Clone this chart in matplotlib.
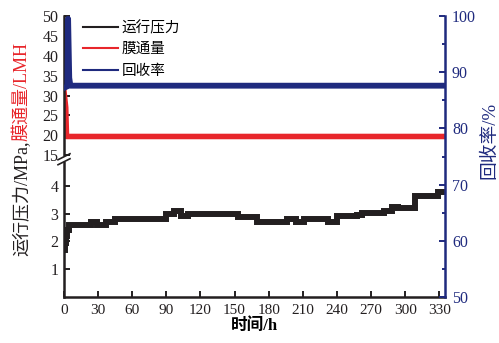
import numpy as np
import matplotlib
matplotlib.use("Agg")
import matplotlib.pyplot as plt
from matplotlib.patches import Rectangle
from matplotlib.ticker import MultipleLocator

plt.rcParams['font.family'] = ['Liberation Serif', 'Noto Sans CJK SC', 'DejaVu Sans']
plt.rcParams['font.size'] = 11

# operating pressure (MPa), stepwise readings
hours = [0, 1, 2, 3, 4, 24, 29, 37, 45, 90, 97, 103, 109, 153, 170, 196, 204,
         211, 232, 240, 258, 262, 281, 288, 294, 309, 329, 332]
pressure = [1.7, 1.95, 2.2, 2.4, 2.6, 2.7, 2.6, 2.7, 2.8, 3.0, 3.1, 2.9, 3.0,
            2.88, 2.7, 2.8, 2.7, 2.8, 2.7, 2.9, 2.95, 3.03, 3.1, 3.25, 3.2,
            3.62, 3.78, 3.78]

# membrane flux (LMH)
flux_h = [0, 1.5, 2.2, 335]
flux = [31, 27, 19.7, 19.7]

# recovery (%)
rec_h = [0, 3, 3.6, 4.6, 5.6, 335]
recovery = [87.2, 87.5, 99.5, 89, 87.6, 87.6]

xticks = list(range(0, 331, 30))
left_ticks = [1, 2, 3, 4, 15, 20, 25, 30, 35, 40, 45, 50]
right_ticks = [50, 60, 70, 80, 90, 100]

black = '#231f20'
red = '#e8262b'
navy = '#1f2a7e'

# broken left axis: 0..4.96 stretched, 14..50 compressed
BRK_LO, BRK_HI = 4.96, 14.0
A, B, EPS = 27.8, 3.98, 0.01
U1 = BRK_LO * A
U2 = U1 + (BRK_HI - BRK_LO) * EPS


def fwd(y):
    y = np.asarray(y, dtype=float)
    return np.where(y <= BRK_LO, y * A,
                    np.where(y < BRK_HI, U1 + (y - BRK_LO) * EPS,
                             U2 + (y - BRK_HI) * B))


def inv(u):
    u = np.asarray(u, dtype=float)
    return np.where(u <= U1, u / A,
                    np.where(u < U2, BRK_LO + (u - U1) / EPS,
                             BRK_HI + (u - U2) / B))


fig = plt.figure(figsize=(4.99, 3.43), dpi=100)
W, H = 499, 343
ax = fig.add_axes([64 / W, 1 - 297 / H, (445 - 64) / W, (297 - 16) / H])
ax.set_yscale('function', functions=(fwd, inv))

l1, = ax.plot(hours, pressure, color=black, lw=4.3, drawstyle='steps-post',
              label='运行压力', solid_joinstyle='miter')
l2, = ax.plot(flux_h, flux, color=red, lw=4.0, label='膜通量')
ax.set_xlim(0, 335)
ax.set_ylim(0, 50)
ax.set_xticks(xticks)
ax.set_yticks(left_ticks)
ax.yaxis.set_minor_locator(plt.NullLocator())
ax.tick_params(direction='in', length=4, width=1.4, colors=black, pad=4,
               labelsize=11.5)
ax.tick_params(axis='x', pad=5, labelsize=11)
for s in ['left', 'bottom']:
    ax.spines[s].set_linewidth(1.8)
    ax.spines[s].set_color(black)
ax.spines['top'].set_visible(False)
ax.spines['right'].set_visible(False)

ax2 = ax.twinx()
l3, = ax2.plot(rec_h, recovery, color=navy, lw=4.2, label='回收率')
ax2.set_ylim(50, 100)
ax2.set_yticks(right_ticks)
ax2.yaxis.set_minor_locator(MultipleLocator(5))
ax2.tick_params(axis='y', which='both', direction='in', colors=navy, width=1.4,
                pad=5, labelsize=11.5)
ax2.tick_params(axis='y', which='major', length=4)
ax2.tick_params(axis='y', which='minor', length=2.5)
for s in ['top', 'left', 'bottom']:
    ax2.spines[s].set_visible(False)
ax2.spines['right'].set_color(navy)
ax2.spines['right'].set_linewidth(1.8)

# break mark on the left spine
yb = fwd(BRK_LO) / fwd(50)
ax_w, ax_h = 445 - 64, 297 - 16
ax.add_patch(Rectangle((-4 / ax_w, yb - 3 / ax_h), 8 / ax_w, 6 / ax_h,
                       transform=ax.transAxes, facecolor='white',
                       edgecolor='none', clip_on=False, zorder=6))
for dy in (-2.5, 2.5):
    ax.plot([-6 / ax_w, 6 / ax_w], [yb + (dy - 3) / ax_h, yb + (dy + 3) / ax_h],
            transform=ax.transAxes, color=black, lw=1.2, clip_on=False, zorder=7)

leg = ax2.legend(handles=[l1, l2, l3], loc='upper left', frameon=False,
                 bbox_to_anchor=(18 / ax_w, 1 - 3 / ax_h), borderaxespad=0,
                 borderpad=0.1, handlelength=2.4, handletextpad=0.2,
                 labelspacing=0.55, prop={'size': 10.5})
for h in leg.legend_handles:
    h.set_linewidth(1.5)

ax.set_xlabel('时间/h', fontsize=12, fontweight='bold', labelpad=1)

# two-colour left label
fig.canvas.draw()
r = fig.canvas.get_renderer()
t1 = fig.text(22 / W, 1 - 256 / H, '运行压力/MPa,', rotation=90, color=black,
              ha='center', va='bottom', fontsize=13)
bb = t1.get_window_extent(r).transformed(fig.transFigure.inverted())
fig.text(22 / W, bb.y1, '膜通量/LMH', rotation=90, color=red,
         ha='center', va='bottom', fontsize=13)

fig.text(490 / W, 1 - 140 / H, '回收率/%', rotation=90, color=navy,
         ha='center', va='center', fontsize=13.5)

fig.savefig('out.png', dpi=100)
